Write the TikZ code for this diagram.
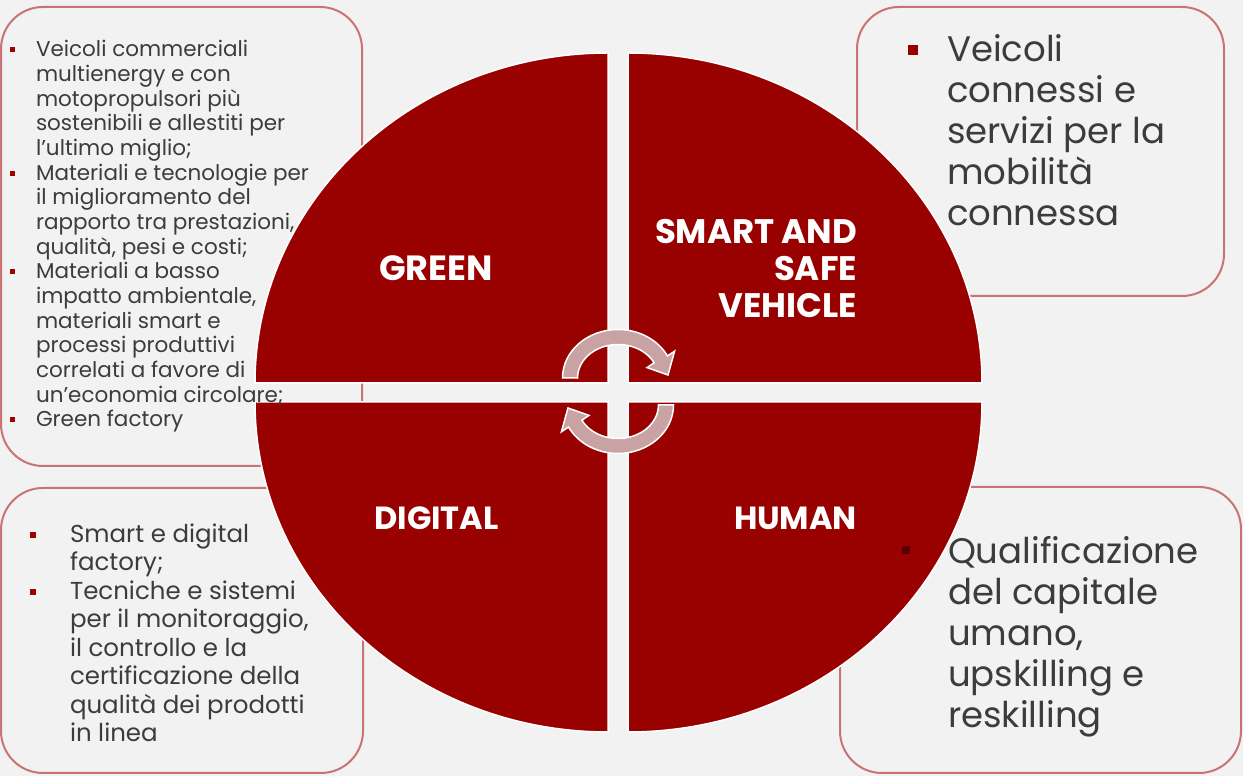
\documentclass[tikz,border=0pt]{standalone}
\usepackage{fontspec}
\setmainfont{Poppins}
\usepackage{tikz}
\usetikzlibrary{positioning}
\definecolor{bggray}{HTML}{F2F2F2}
\definecolor{quadred}{HTML}{990000}
\definecolor{framered}{HTML}{C97474}
\definecolor{txtgray}{HTML}{3C3C3C}
\definecolor{arrowpink}{HTML}{C9A3A3}
\definecolor{bulred}{HTML}{A00000}
% square bullet: size, gap to text, raise, colour
\newcommand{\sqbul}[4]{\llap{\textcolor{#4}{\rule[#3pt]{#1pt}{#1pt}}\hspace{#2pt}}}
\newcommand{\turnarrow}{%
  \filldraw[arrowfill] (577.5,398) -- (562.5,398)
    arc[start angle=180, end angle=27, x radius=55.5, y radius=48.5]
    -- (674.6,424.8) -- (668,401) -- (647,408.4)
    -- (654.1,413.2) arc[start angle=27, end angle=180, x radius=40.5, y radius=33.5] -- cycle;}

\begin{document}
\begin{tikzpicture}[x=1pt, y=1pt,
  every node/.style = {inner sep=0pt, outer sep=0pt},
  infobox/.style = {draw=framered, line width=2pt, rounded corners=42pt, fill=bggray},
  quarter/.style = {fill=quadred, draw=white, line width=1.5pt},
  smalltext/.style = {align=left, anchor=base west, text=txtgray, font=\fontsize{21.5}{24.67}\selectfont},
  midtext/.style = {align=left, anchor=base west, text=txtgray, font=\fontsize{24.5}{28.5}\selectfont},
  bigtext/.style = {align=left, anchor=base west, text=txtgray, font=\fontsize{35.5}{41}\selectfont},
  label/.style = {text=white, font=\fontsize{#1}{37}\selectfont\bfseries},
  arrowfill/.style = {fill=arrowpink, draw=white, line width=1.5pt}]
  \useasboundingbox (0,0) rectangle (1243,776);
  \fill[bggray] (0,0) rectangle (1243,776);

  % boxes behind the circle
  \node[infobox, minimum width=361, minimum height=459] (greenbox) at (181.5,539.5) {};
  \node[infobox, minimum width=367, minimum height=289] (smartbox) at (1040.5,624.5) {};
  \node[infobox, minimum width=362, minimum height=285] (digitalbox) at (182,145.5) {};
  \node[infobox, minimum width=401, minimum height=286] (humanbox) at (1040.5,146) {};

  % the four quarters
  \filldraw[quarter] (608,393) -- (255,393) arc[start angle=180, end angle=90, x radius=353, y radius=330] -- cycle;
  \filldraw[quarter] (628,393) -- (628,723) arc[start angle=90, end angle=0, x radius=354, y radius=330] -- cycle;
  \filldraw[quarter] (608,374) -- (608,44) arc[start angle=270, end angle=180, x radius=353, y radius=330] -- cycle;
  \filldraw[quarter] (628,374) -- (982,374) arc[start angle=0, end angle=-90, x radius=354, y radius=330] -- cycle;

  % cycle arrows
  \turnarrow
  \begin{scope}[rotate around={180:(618,384.5)}]
    \turnarrow
  \end{scope}

  % quarter labels
  \node[label=35] (green) at (436,508) {GREEN};
  \node[label=34, align=right, anchor=east] (smart) at (857,508) {SMART AND\\SAFE\\VEHICLE};
  \node[label=32] (digital) at (436.5,258) {DIGITAL};
  \node[label=32, anchor=east] (human) at (857,258) {HUMAN};

  % box texts (anchored at the baseline of the last line)
  \node[smalltext] (greentxt) at (36,349) {%
    \sqbul{5}{21.5}{4.5}{bulred}Veicoli commerciali\\
    multienergy e con\\
    motopropulsori più\\
    sostenibili e allestiti per\\
    l’ultimo miglio;\\
    \sqbul{5}{21.5}{4.5}{bulred}Materiali e tecnologie per\\
    il miglioramento del\\
    rapporto tra prestazioni,\\
    qualità, pesi e costi;\\
    \sqbul{5}{21.5}{4.5}{bulred}Materiali a basso\\
    impatto ambientale,\\
    materiali smart e\\
    processi produttivi\\
    correlati a favore di\\
    un’economia circolare;\\
    \sqbul{5}{21.5}{4.5}{bulred}Green factory};
  \node[bigtext] (smarttxt) at (947,550) {%
    \sqbul{10}{29}{7}{quadred}Veicoli\\
    connessi e\\
    servizi per la\\
    mobilità\\
    connessa};
  \node[midtext] (digitaltxt) at (70,34) {%
    \sqbul{6}{34}{4}{bulred}Smart e digital\\
    factory;\\
    \sqbul{6}{34}{4}{bulred}Tecniche e sistemi\\
    per il monitoraggio,\\
    il controllo e la\\
    certificazione della\\
    qualità dei prodotti\\
    in linea};
  \node[bigtext] (humantxt) at (948,48) {%
    \sqbul{8}{38}{10}{black!45!quadred}Qualificazione\\
    del capitale\\
    umano,\\
    upskilling e\\
    reskilling};
\end{tikzpicture}
\end{document}
